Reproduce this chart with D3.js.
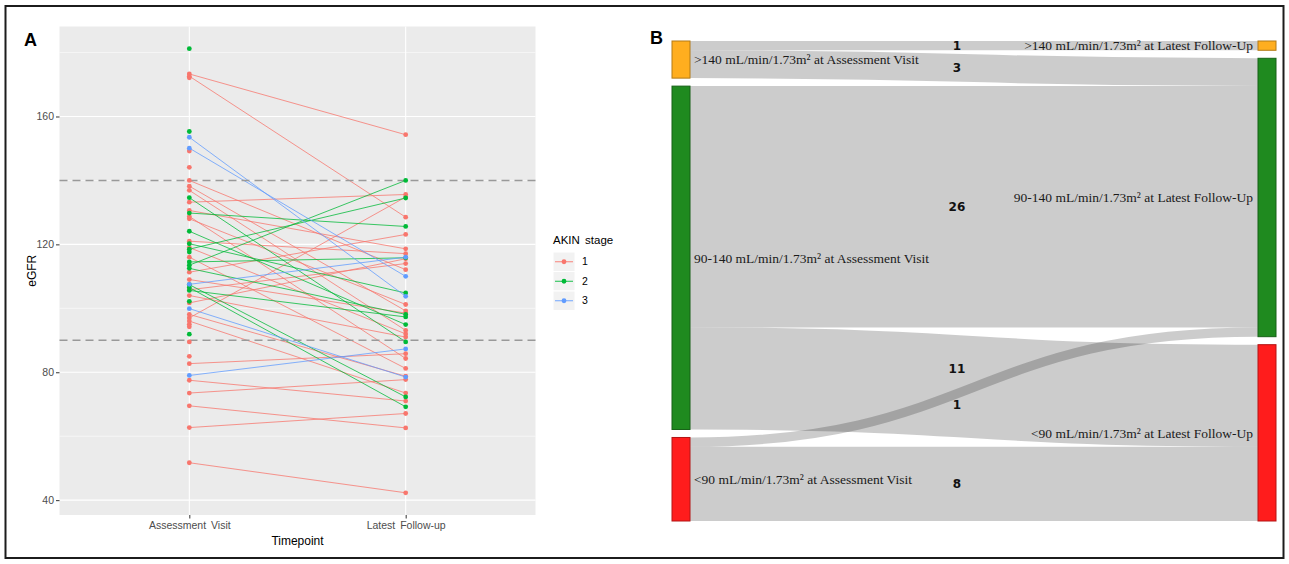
<!DOCTYPE html>
<html><head><meta charset="utf-8">
<script src="https://cdn.jsdelivr.net/npm/d3@7"></script>
<style>body{margin:0;background:#fff} svg{display:block}</style>
</head><body><svg id="c" width="1289" height="564"></svg>
<script>
// ---------- Panel A data ----------
const timepoints = ["Assessment Visit", "Latest Follow-up"];
const stages = ["1", "2", "3"];
const patientStage = [
  "1","1","1","1","1","1","1","1","1","1","1","1","1","1","1","1","1","1","1","1",
  "1","1","1","1","1","1","1","1","1","1","1","1","1",
  "2","2","2","2","2","2","2","2","2","2","2","2","2","2","2","2",
  "3","3","3","3","3"
];
const eGFRAssessment = [
  173.3,172.6,172.1,149.2,144.1,140,138.2,136.9,133.2,130.6,128.75,128,121,119,116,111.3,109,105.8,104,101.7,
  98.1,97,96,95,94.2,89.5,85,82.7,77.5,73.5,69.5,62.7,51.7,
  181.2,155.3,134.6,129.8,124.1,120.2,118.5,117.6,114.5,113.5,112.5,107.4,106.5,105.6,102.2,91.9,
  153.5,150.1,107.5,99.9,79
];
const eGFRFollowUp = [
  154.3,128.5,null,null,null,112.1,99.2,93.1,135.6,118.6,84.3,101.2,117.1,92,81.2,123.1,98.5,114,91,115.5,
  78.75,134.8,73.5,null,null,null,null,85.8,71,77.7,62.6,67.1,42.3,
  null,null,89.5,125.6,94.9,104.8,134.5,null,115.8,140,98.1,72.3,69.2,97.3,null,null,
  103.75,110,116,78.5,87.3
];
const yTicks = [40, 80, 120, 160];
const yMinorTicks = [60, 100, 140, 180];
const thresholds = [90, 140];

// ---------- Panel B data ----------
const sankeyNodeNames = [
  ">140 mL/min/1.73m\u00B2 at Assessment Visit",
  "90-140 mL/min/1.73m\u00B2 at Assessment Visit",
  "<90 mL/min/1.73m\u00B2 at Assessment Visit",
  ">140 mL/min/1.73m\u00B2 at Latest Follow-Up",
  "90-140 mL/min/1.73m\u00B2 at Latest Follow-Up",
  "<90 mL/min/1.73m\u00B2 at Latest Follow-Up"
];
const sankeyNodeGroup = [">140", "90-140", "<90", ">140", "90-140", "<90"];
const linkSource = [0, 0, 1, 1, 2, 2];
const linkTarget = [3, 4, 4, 5, 4, 5];
const linkValue  = [1, 3, 26, 11, 1, 8];

// ---------- drawing ----------
const svg = d3.select("#c");
svg.append("rect").attr("x", 5.5).attr("y", 6).attr("width", 1278).attr("height", 552)
  .attr("fill", "none").attr("stroke", "#1c1c1c").attr("stroke-width", 2);

const sans = "'Liberation Sans', Arial, sans-serif";

// Panel A
const pA = {left: 59.5, right: 535.5, top: 26.5, bottom: 515};
const allVals = eGFRAssessment.concat(eGFRFollowUp.filter(v => v != null));
const ext = d3.extent(allVals), padV = (ext[1] - ext[0]) * 0.05;
const y = d3.scaleLinear().domain([ext[0] - padV, ext[1] + padV]).range([pA.bottom, pA.top]);
const x = d3.scalePoint().domain(timepoints).range([pA.left, pA.right]).padding(0.6);
const color = d3.scaleOrdinal().domain(stages).range(["#F8766D", "#00BA38", "#619CFF"]);

const gA = svg.append("g");
gA.append("rect").attr("x", pA.left).attr("y", pA.top)
  .attr("width", pA.right - pA.left).attr("height", pA.bottom - pA.top).attr("fill", "#EBEBEB");
gA.selectAll(".minor").data(yMinorTicks.filter(t => t >= y.domain()[0] && t <= y.domain()[1])).join("line")
  .attr("x1", pA.left).attr("x2", pA.right).attr("y1", d => y(d)).attr("y2", d => y(d))
  .attr("stroke", "#fff").attr("stroke-width", 0.55);
gA.selectAll(".major").data(yTicks).join("line")
  .attr("x1", pA.left).attr("x2", pA.right).attr("y1", d => y(d)).attr("y2", d => y(d))
  .attr("stroke", "#fff").attr("stroke-width", 1.1);
gA.selectAll(".xgrid").data(timepoints).join("line")
  .attr("x1", d => x(d)).attr("x2", d => x(d)).attr("y1", pA.top).attr("y2", pA.bottom)
  .attr("stroke", "#fff").attr("stroke-width", 1.1);

const patients = eGFRAssessment.map((v, i) => ({stage: patientStage[i], a: v, f: eGFRFollowUp[i]}));
gA.selectAll(".pl").data(patients.filter(p => p.f != null)).join("line")
  .attr("x1", x(timepoints[0])).attr("x2", x(timepoints[1]))
  .attr("y1", d => y(d.a)).attr("y2", d => y(d.f))
  .attr("stroke", d => color(d.stage)).attr("stroke-width", 0.9).attr("opacity", 0.85);

gA.selectAll(".th").data(thresholds).join("line")
  .attr("x1", pA.left).attr("x2", pA.right).attr("y1", d => y(d)).attr("y2", d => y(d))
  .attr("stroke", "#999").attr("stroke-width", 1.4).attr("stroke-dasharray", "8,5");

const pts = [];
patients.forEach(p => {
  pts.push({stage: p.stage, t: timepoints[0], v: p.a});
  if (p.f != null) pts.push({stage: p.stage, t: timepoints[1], v: p.f});
});
gA.selectAll(".pt").data(pts).join("circle")
  .attr("cx", d => x(d.t)).attr("cy", d => y(d.v)).attr("r", 2.4)
  .attr("fill", d => color(d.stage));

// axes
const axL = gA.append("g").attr("transform", `translate(${pA.left},0)`)
  .call(d3.axisLeft(y).tickValues(yTicks).tickSize(3.5).tickPadding(2));
axL.select(".domain").remove();
axL.selectAll("line").attr("stroke", "#333");
axL.selectAll("text").attr("fill", "#4D4D4D").style("font", `10.5px ${sans}`);
const axB = gA.append("g").attr("transform", `translate(0,${pA.bottom})`)
  .call(d3.axisBottom(x).tickSize(3.5).tickPadding(3));
axB.select(".domain").remove();
axB.selectAll("line").attr("stroke", "#333");
axB.selectAll("text").attr("fill", "#4D4D4D").style("font", `10.5px ${sans}`).style("word-spacing", "2px");

gA.append("text").attr("x", (pA.left + pA.right) / 2).attr("y", 545).attr("text-anchor", "middle")
  .style("font", `12px ${sans}`).attr("fill", "#000").text("Timepoint");
gA.append("text").attr("transform", `translate(36,${(pA.top + pA.bottom) / 2}) rotate(-90)`)
  .attr("text-anchor", "middle").style("font", `12px ${sans}`).attr("fill", "#000").text("eGFR");
gA.append("text").attr("x", 24).attr("y", 46).style("font", `bold 18px ${sans}`).text("A");

// legend
const lg = gA.append("g").attr("transform", "translate(553,232)");
lg.append("text").attr("x", 0).attr("y", 12).style("font", `11.5px ${sans}`).style("word-spacing", "2px").text("AKIN stage");
stages.forEach((s, i) => {
  const ky = 20 + i * 19.5;
  lg.append("rect").attr("x", 0).attr("y", ky).attr("width", 22).attr("height", 19.5)
    .attr("fill", "#F2F2F2").attr("stroke", "#fff").attr("stroke-width", 1);
  lg.append("line").attr("x1", 2).attr("x2", 20).attr("y1", ky + 9.75).attr("y2", ky + 9.75)
    .attr("stroke", color(s)).attr("stroke-width", 0.9);
  lg.append("circle").attr("cx", 11).attr("cy", ky + 9.75).attr("r", 2.4).attr("fill", color(s));
  lg.append("text").attr("x", 29).attr("y", ky + 9.75).attr("dy", "0.35em")
    .style("font", `10.5px ${sans}`).attr("fill", "#000").text(s);
});

// Panel B : manual sankey layout
const pB = {x0: 672, x1: 1276, y0: 41, y1: 521, nodeW: 18, pad: 8};
const nodes = sankeyNodeNames.map((n, i) => ({name: n, group: sankeyNodeGroup[i], index: i, in: [], out: []}));
const links = linkValue.map((v, i) => ({source: nodes[linkSource[i]], target: nodes[linkTarget[i]], value: v}));
links.forEach(l => { l.source.out.push(l); l.target.in.push(l); });
nodes.forEach(n => {
  n.value = Math.max(d3.sum(n.in, l => l.value), d3.sum(n.out, l => l.value));
  n.col = n.in.length ? 1 : 0;
});
const cols = [0, 1].map(c => nodes.filter(n => n.col === c));
const kScale = d3.min(cols, c => (pB.y1 - pB.y0 - (c.length - 1) * pB.pad) / d3.sum(c, n => n.value));
cols.forEach((c, ci) => {
  let yy = pB.y0;
  c.forEach(n => {
    n.y0 = yy; n.y1 = yy + n.value * kScale; yy = n.y1 + pB.pad;
    n.x0 = ci === 0 ? pB.x0 : pB.x1 - pB.nodeW; n.x1 = n.x0 + pB.nodeW;
  });
});
nodes.forEach(n => {
  let sy = n.y0;
  n.out.slice().sort((a, b) => a.target.y0 - b.target.y0).forEach(l => { l.w = l.value * kScale; l.ys = sy + l.w / 2; sy += l.w; });
  let ty = n.y0;
  n.in.slice().sort((a, b) => a.source.y0 - b.source.y0).forEach(l => { l.yt = ty + l.value * kScale / 2; ty += l.value * kScale; });
});
const nodeColor = d3.scaleOrdinal().domain([">140", "90-140", "<90"]).range(["#FFAE1F", "#1F8A1F", "#FF1C1C"]);

const gB = svg.append("g");
const linkGen = d3.linkHorizontal();
gB.selectAll(".lk").data(links).join("path")
  .attr("d", l => linkGen({source: [l.source.x1, l.ys], target: [l.target.x0, l.yt]}))
  .attr("fill", "none").attr("stroke", "#000").attr("stroke-opacity", 0.2)
  .attr("stroke-width", l => l.w);

gB.selectAll(".nd").data(nodes).join("rect")
  .attr("x", n => n.x0).attr("y", n => n.y0).attr("width", pB.nodeW).attr("height", n => n.y1 - n.y0)
  .attr("fill", n => nodeColor(n.group))
  .attr("stroke", n => d3.rgb(nodeColor(n.group)).darker(1)).attr("stroke-width", 1);

gB.selectAll(".nl").data(nodes).join("text")
  .attr("x", n => n.col === 0 ? n.x1 + 4 : n.x0 - 5)
  .attr("y", n => (n.y0 + n.y1) / 2).attr("dy", "0.35em")
  .attr("text-anchor", n => n.col === 0 ? "start" : "end")
  .style("font", "13.5px 'Liberation Serif', 'Times New Roman', serif").attr("fill", "#1a1a1a")
  .text(n => n.name);

// link value labels with simple de-overlap (ties ordered by source node)
const lblX = pB.x0 + pB.nodeW + (pB.x1 - pB.x0 - 2 * pB.nodeW) * 0.47;
const lbls = links.map(l => ({l, y: (l.ys + l.yt) / 2}));
lbls.sort((a, b) => Math.abs(a.y - b.y) < 1 ? a.l.source.y0 - b.l.source.y0 : a.y - b.y);
for (let i = 1; i < lbls.length; i++) {
  if (Math.abs(lbls[i].y - lbls[i - 1].y) < 16) {
    const m = (lbls[i].y + lbls[i - 1].y) / 2;
    lbls[i - 1].y = m - 18; lbls[i].y = m + 18;
  }
}
gB.selectAll(".ll").data(lbls).join("text")
  .attr("x", lblX).attr("y", d => d.y).attr("dy", "0.35em").attr("text-anchor", "middle")
  .style("font", "bold 12px 'DejaVu Sans', sans-serif").attr("fill", "#111")
  .text(d => d.l.value);

gB.append("text").attr("x", 650).attr("y", 44).style("font", `bold 18px ${sans}`).text("B");
</script></body></html>
